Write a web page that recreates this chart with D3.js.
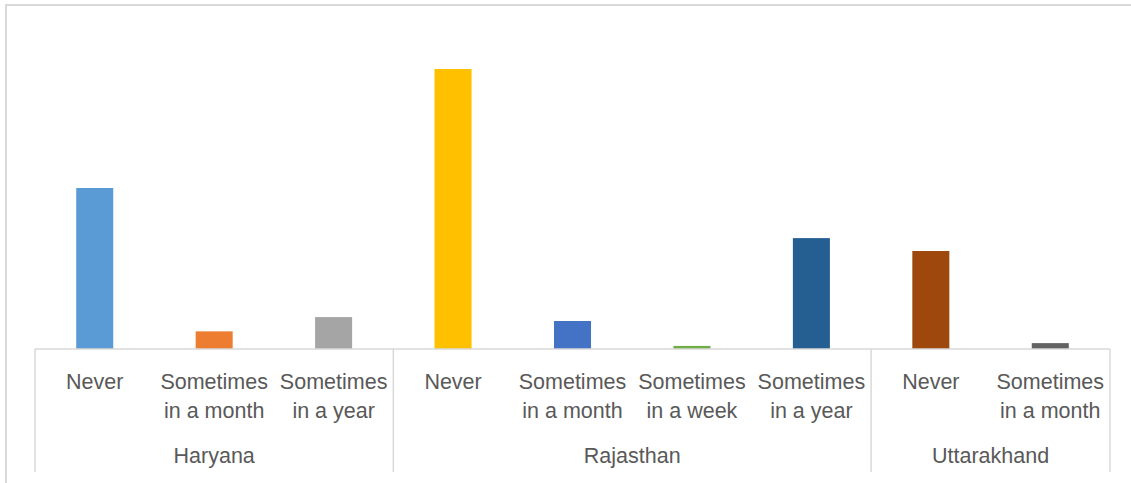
<!DOCTYPE html>
<html>
<head>
<meta charset="utf-8">
<script src="https://cdn.jsdelivr.net/npm/d3@7"></script>
<style>
  html, body { margin: 0; padding: 0; background: #fff; }
  svg { display: block; }
</style>
</head>
<body>
<svg id="chart" width="1131" height="483"></svg>
<script>
// ---- data ----
const groups = ["Haryana", "Rajasthan", "Uttarakhand"];
const groupCategories = [
  ["Never", "Sometimes in a month", "Sometimes in a year"],
  ["Never", "Sometimes in a month", "Sometimes in a week", "Sometimes in a year"],
  ["Never", "Sometimes in a month"]
];
const values = [57.5, 6.3, 11.4, 100, 10, 1.1, 39.6, 35, 2.1];
const barColors = ["#5B9BD5", "#ED7D31", "#A5A5A5", "#FFC000", "#4472C4", "#70AD47", "#255E91", "#9E480E", "#636363"];

// ---- build flat rows ----
const rows = [];
groupCategories.forEach((cats, gi) => cats.forEach(c => rows.push({ group: groups[gi], cat: c, key: groups[gi] + "|" + c })));
rows.forEach((r, i) => { r.value = values[i]; r.color = barColors[i]; });

const svg = d3.select("#chart");
const left = 35, right = 1110, baseY = 349, topY = 13, axisBottom = 472;

// chart border
svg.append("rect").attr("x", 6).attr("y", 5).attr("width", 1140).attr("height", 500)
  .attr("fill", "none").attr("stroke", "#d9d9d9").attr("stroke-width", 2);

const x = d3.scaleBand().domain(rows.map(r => r.key)).range([left, right])
  .paddingInner(0.69).paddingOuter(0.345);
const y = d3.scaleLinear().domain([0, 120]).range([baseY, topY]);

// bars
svg.append("g").selectAll("rect").data(rows).join("rect")
  .attr("x", d => x(d.key))
  .attr("y", d => y(d.value))
  .attr("width", x.bandwidth())
  .attr("height", d => y(0) - y(d.value))
  .attr("fill", d => d.color);

// axis line
const lineColor = "#d9d9d9";
svg.append("line").attr("x1", left).attr("x2", right).attr("y1", baseY).attr("y2", baseY)
  .attr("stroke", lineColor).attr("stroke-width", 1.5);

// group separators
const step = x.step();
const bounds = [0];
let acc = 0;
groupCategories.forEach(c => { acc += c.length; bounds.push(acc); });
svg.append("g").selectAll("line").data(bounds).join("line")
  .attr("x1", d => left + d * step).attr("x2", d => left + d * step)
  .attr("y1", baseY).attr("y2", axisBottom)
  .attr("stroke", lineColor).attr("stroke-width", 1.5);

// category labels
const font = "'Liberation Sans', Arial, sans-serif";
const labels = svg.append("g").selectAll("text").data(rows).join("text")
  .attr("text-anchor", "middle")
  .attr("font-family", font).attr("font-size", 21.5).attr("fill", "#595959")
  .attr("transform", d => `translate(${x(d.key) + x.bandwidth() / 2},0)`);
labels.each(function(d) {
  const i = d.cat.indexOf(" ");
  const lines = i < 0 ? [d.cat] : [d.cat.slice(0, i), d.cat.slice(i + 1)];
  const t = d3.select(this);
  lines.forEach((ln, k) => t.append("tspan").attr("x", 0).attr("y", 389 + k * 28.5).text(ln));
});

// group labels
svg.append("g").selectAll("text").data(groups).join("text")
  .attr("x", (g, i) => left + (bounds[i] + bounds[i + 1]) / 2 * step)
  .attr("y", 463)
  .attr("text-anchor", "middle")
  .attr("font-family", font).attr("font-size", 21.5).attr("fill", "#595959")
  .text(g => g);
</script>
</body>
</html>
